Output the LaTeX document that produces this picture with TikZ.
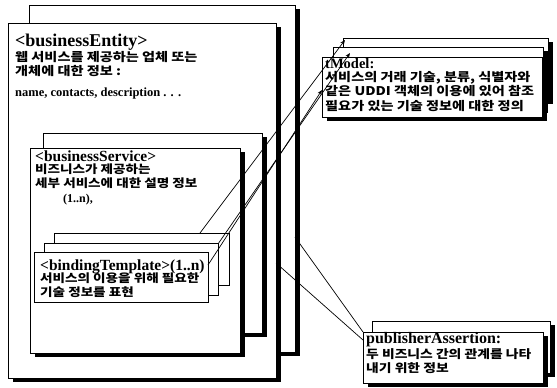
\documentclass[tikz,border=0pt]{standalone}
\usepackage{fontspec}
\setmainfont{Liberation Serif}
\newfontfamily\kr{Noto Sans CJK KR}[FakeStretch=1.18]
\usetikzlibrary{shadows,calc,arrows.meta}
\tikzset{
  sheet/.style={draw=black, line width=0.8pt, fill=white, inner sep=0pt, outer sep=0pt,
    anchor=north west, general shadow={fill=black, shadow xshift=4.5pt, shadow yshift=-4pt}},
  flat/.style={draw=black, line width=0.8pt, fill=white, inner sep=0pt, outer sep=0pt, anchor=north west},
  ttl/.style={anchor=base west, inner sep=0pt, font=\bfseries\fontsize{15.5}{15.5}\selectfont},
  txt/.style={anchor=north west, inner sep=0pt, align=left,
    font=\kr\bfseries\fontsize{12}{14.5}\selectfont},
  link/.style={line width=0.7pt},
  ref/.style={line width=0.7pt, -{Stealth[length=5pt,width=4pt]}}
}
\begin{document}
\begin{tikzpicture}[x=1pt,y=-1pt]
\useasboundingbox[fill=white] (0,0) rectangle (557,388);

% businessEntity stack
\node[sheet, minimum width=266pt, minimum height=347pt] (beb) at (29,5) {};
\node[sheet, minimum width=268pt, minimum height=355pt] (bef) at (8,23) {};
\node[ttl, font=\bfseries\fontsize{18}{18}\selectfont] (bet) at (15,46) {<businessEntity>};
\node[txt] (bed) at (15,51) {웹 서비스를 제공하는 업체 또는\\개체에 대한 정보 :};
\node[ttl, font=\bfseries\fontsize{12.5}{12.5}\selectfont] (ben) at (15,96) {name, contacts, description . . .};

% businessService stack
\node[sheet, minimum width=219pt, minimum height=200pt] (bsb) at (43,133) {};
\node[sheet, minimum width=210pt, minimum height=205pt] (bsf) at (30,148) {};
\node[ttl] (bst) at (35,161) {<businessService>};
\node[txt, font=\kr\bfseries\fontsize{11.5}{14}\selectfont] (bsd) at (35,164) {비즈니스가 제공하는\\세부 서비스에 대한 설명 정보};
\node[ttl, font=\bfseries\fontsize{12}{12}\selectfont] (bsn) at (63,202) {(1..n),};

% bindingTemplate stack
\node[flat, minimum width=175pt, minimum height=52pt] (btb) at (54,233) {};
\node[flat, minimum width=174pt, minimum height=52pt] (btm) at (44,243) {};
\node[flat, minimum width=174pt, minimum height=50pt] (btf) at (34,252) {};
\node[ttl] (btt) at (40,270) {<bindingTemplate>(1..n)};
\node[txt, font=\kr\bfseries\fontsize{11.5}{14}\selectfont] (btd) at (40,273) {서비스의 이용을 위해 필요한\\기술 정보를 표현};

% tModel stack
\node[sheet, minimum width=205pt, minimum height=62pt] (tmb) at (343,38) {};
\node[sheet, minimum width=210pt, minimum height=62pt] (tmm) at (333,47) {};
\node[sheet, minimum width=220pt, minimum height=60pt] (tmf) at (322,57) {};
\node[ttl, font=\bfseries\fontsize{14.5}{14.5}\selectfont] (tmt) at (325,68) {tModel:};
\node[txt, font=\kr\bfseries\fontsize{12}{14.5}\selectfont] (tmd) at (325,71)
  {서비스의 거래 기술, 분류, 식별자와\\같은 UDDI 객체의 이용에 있어 참조\\필요가 있는 기술 정보에 대한 정의};

% publisherAssertion stack
\node[sheet, minimum width=178pt, minimum height=52pt] (pab) at (372,321) {};
\node[sheet, minimum width=180pt, minimum height=51pt] (paf) at (363,332) {};
\node[ttl, font=\bfseries\fontsize{16}{16}\selectfont] (pat) at (366,343) {publisherAssertion:};
\node[txt, font=\kr\bfseries\fontsize{11.7}{14.5}\selectfont] (pad) at (366,348) {두 비즈니스 간의 관계를 나타\\내기 위한 정보};

% references to tModel
\draw[ref] ([xshift=-29pt]btb.north east) -- ([xshift=2pt,yshift=-2pt]tmb.north west);
\draw[ref] ([yshift=-1pt]btm.north east) -- ([xshift=17pt,yshift=-6pt]tmm.north west);
\draw[ref] ([yshift=-13pt]btf.north east) -- ([yshift=-33pt]tmf.north west);

% links to publisherAssertion
\draw[link] ([yshift=-232pt]beb.north east) -- (paf.north west);
\draw[link] ([yshift=-240pt]bef.north east) -- ([yshift=-8pt]paf.north west);
\end{tikzpicture}
\end{document}
